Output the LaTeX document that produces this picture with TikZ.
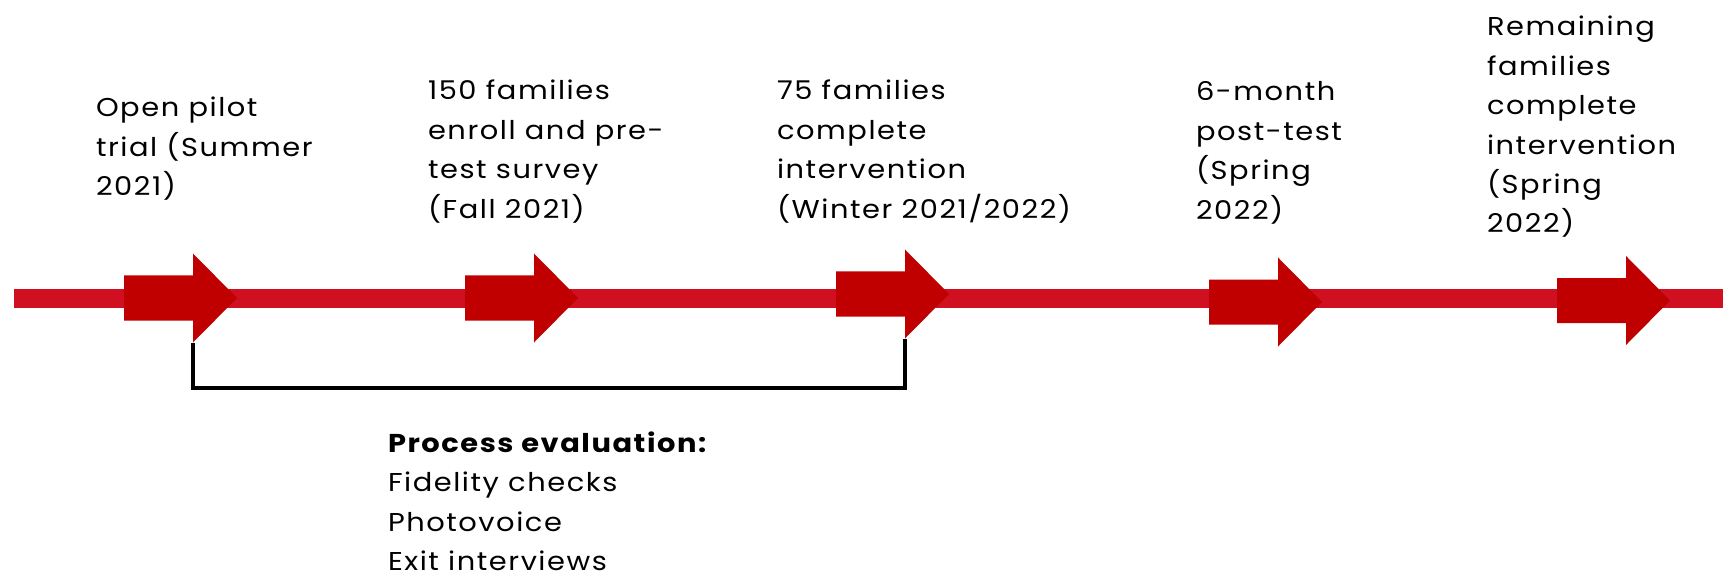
\documentclass[tikz,border=0pt]{standalone}
\usepackage{fontspec}
\setmainfont{Poppins}[FakeStretch=1.12, LetterSpace=6]
\definecolor{linered}{HTML}{D01020}
\definecolor{arrowred}{HTML}{C00000}
\newcommand{\lblfont}{\fontsize{25.8}{39.4}\selectfont}
\tikzset{
  lbl/.style={anchor=north west, inner sep=0pt, outer sep=0pt, align=left, font=\lblfont, text=black},
  pics/tlarrow/.style={code={
    \fill[arrowred] (0,-22.5) -- (69,-22.5) -- (69,-44.5) -- (113,0) -- (69,44.5) -- (69,22.5) -- (0,22.5) -- cycle;
    \coordinate (-headlow) at (69,44.5);
  }},
  bracketline/.style={draw=black, line width=3.2pt}
}
\begin{document}
\begin{tikzpicture}[x=1pt,y=-1pt]
\useasboundingbox (0,0) rectangle (1723,577);
% timeline
\coordinate (tlstart) at (14,298);
\coordinate (tlend) at (1723,298);
\draw[linered, line width=19pt] (tlstart) -- (tlend);
% arrows
\pic (a1) at (124,298) {tlarrow};
\pic (a2) at (465,298) {tlarrow};
\pic (a3) at (836,294) {tlarrow};
\pic (a4) at (1209,302) {tlarrow};
\pic (a5) at (1557,300.5) {tlarrow};
% bracket
\coordinate (bl) at (193,388);
\coordinate (br) at (905,388);
\draw[bracketline] (a1-headlow) -- (bl) -- (br) -- (a3-headlow);
% labels (top = baseline - 0.7*39.4)
\node[lbl] (t1) at (96,89.4) {\strut Open pilot\\trial (Summer\\2021)};
\node[lbl] (t2) at (428,72.4) {\strut 150 families\\enroll and pre-\\test survey\\(Fall 2021)};
\node[lbl] (t3) at (777,72.4) {\strut 75 families\\complete\\intervention\\(Winter 2021/2022)};
\node[lbl] (t4) at (1196,73.4) {\strut 6-month\\post-test\\(Spring\\2022)};
\node[lbl] (t5) at (1487,8.4) {\strut Remaining\\families\\complete\\intervention\\(Spring\\2022)};
\node[lbl] (t6) at (388,425) {\strut\textbf{Process evaluation:}\\Fidelity checks\\Photovoice\\Exit interviews};
\end{tikzpicture}
\end{document}
